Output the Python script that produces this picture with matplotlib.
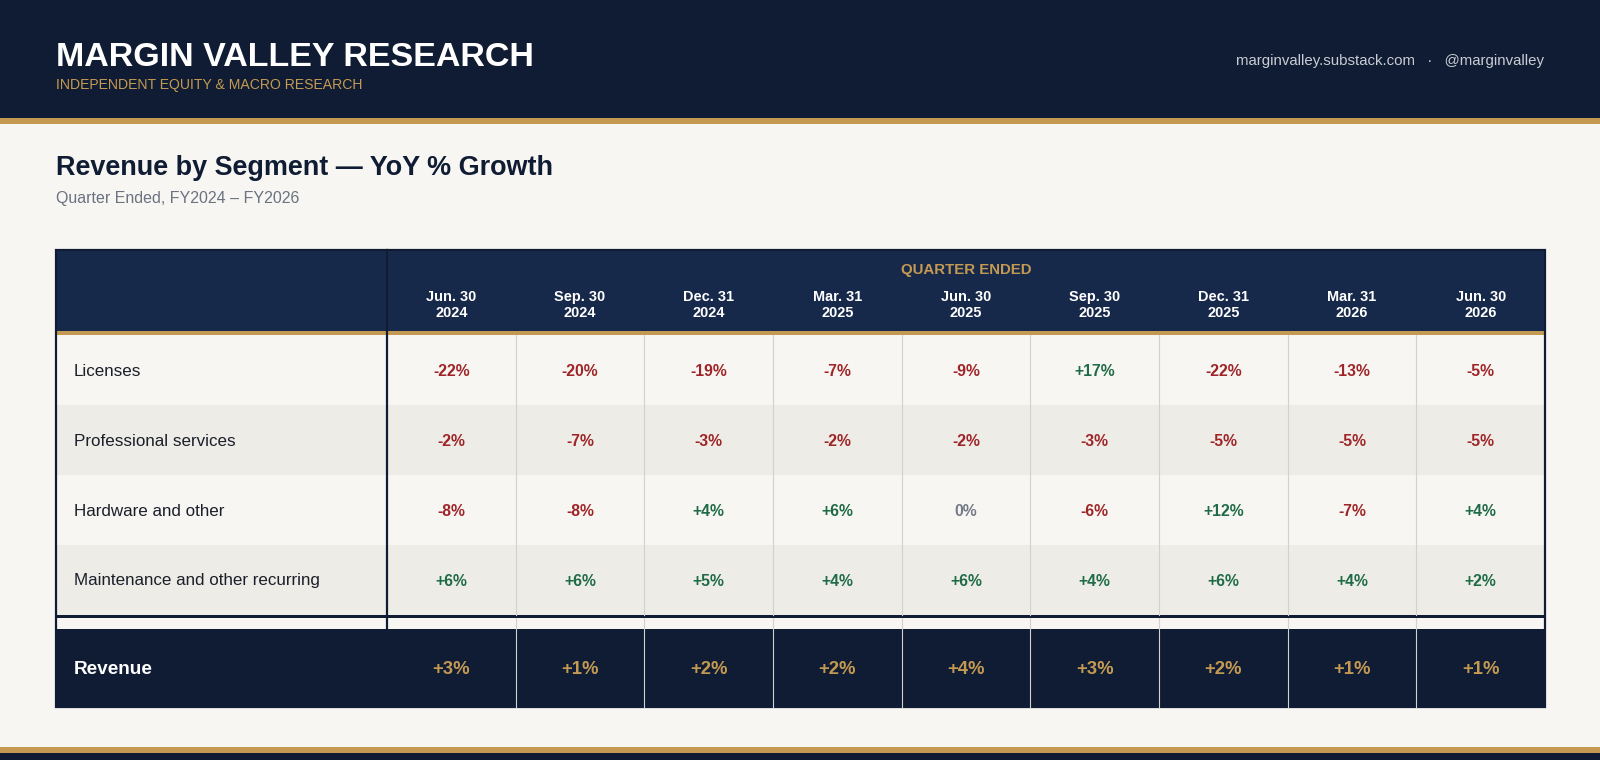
import matplotlib
matplotlib.use("Agg")
import matplotlib.pyplot as plt
from matplotlib.patches import Rectangle

plt.rcParams['font.family'] = ['Liberation Sans', 'DejaVu Sans']

# data
quarter_days = ["Jun. 30", "Sep. 30", "Dec. 31", "Mar. 31", "Jun. 30",
                "Sep. 30", "Dec. 31", "Mar. 31", "Jun. 30"]
quarter_years = ["2024", "2024", "2024", "2025", "2025",
                 "2025", "2025", "2026", "2026"]
segments = ["Licenses", "Professional services", "Hardware and other",
            "Maintenance and other recurring"]
licenses = [-22, -20, -19, -7, -9, 17, -22, -13, -5]
prof_services = [-2, -7, -3, -2, -2, -3, -5, -5, -5]
hardware = [-8, -8, 4, 6, 0, -6, 12, -7, 4]
maintenance = [6, 6, 5, 4, 6, 4, 6, 4, 2]
revenue = [3, 1, 2, 2, 4, 3, 2, 1, 1]
segment_values = [licenses, prof_services, hardware, maintenance]

# colours
NAVY = "#0f1c33"
HEAD = "#17294a"
GOLD = "#c49a52"
PAPER = "#f7f6f2"
ALT = "#edece7"
RED = "#9f2428"
GREEN = "#1e6b45"
GREY = "#737985"
GRID = "#d3d1cb"
INK = "#1b1f2a"


def pt(px):
    # pixel size -> points at dpi 100
    return px * 0.72


def fmt(v):
    return "0%" if v == 0 else f"{v:+d}%"


def colour(v):
    if v > 0:
        return GREEN
    if v < 0:
        return RED
    return GREY


fig = plt.figure(figsize=(16, 7.6), dpi=100)
fig.patch.set_facecolor(PAPER)
ax = fig.add_axes([0, 0, 1, 1])
ax.set_xlim(0, 1600)
ax.set_ylim(760, 0)
ax.axis("off")

# top band
ax.add_patch(Rectangle((0, 0), 1600, 118, color=NAVY, lw=0))
ax.add_patch(Rectangle((0, 118), 1600, 6, color=GOLD, lw=0))
ax.text(56, 57, "MARGIN VALLEY RESEARCH", color="white", fontsize=pt(34),
        fontweight="bold", va="center", ha="left")
ax.text(56, 85, "INDEPENDENT EQUITY & MACRO RESEARCH", color=GOLD,
        fontsize=pt(14), va="center", ha="left")
ax.text(1544, 61, "marginvalley.substack.com   \u00b7   @marginvalley",
        color="#c8ccd4", fontsize=pt(15), va="center", ha="right")

# footer
ax.add_patch(Rectangle((0, 747), 1600, 6, color=GOLD, lw=0))
ax.add_patch(Rectangle((0, 753), 1600, 7, color=NAVY, lw=0))

# titles
ax.text(56, 168, "Revenue by Segment \u2014 YoY % Growth", color=NAVY,
        fontsize=pt(27), fontweight="bold", va="center", ha="left")
ax.text(56, 198, "Quarter Ended, FY2024 \u2013 FY2026", color="#6b7280",
        fontsize=pt(16), va="center", ha="left")

# table layout
X0, X1 = 56, 1545
XL = 387
ncol = len(quarter_days)
cw = (X1 - XL) / ncol
T0 = 250
HEAD_H = 81
GOLD_H = 4
ROW_H = 70
R0 = T0 + HEAD_H + GOLD_H
RN = R0 + ROW_H * len(segments)
SEP_H = 3
GAP = 11
REV0 = RN + SEP_H + GAP
REV_H = 78
col_x = [XL + cw * (i + 0.5) for i in range(ncol)]

# header
ax.add_patch(Rectangle((X0, T0), X1 - X0, HEAD_H, color=HEAD, lw=0))
ax.add_patch(Rectangle((X0, T0 + HEAD_H), X1 - X0, GOLD_H, color=GOLD, lw=0))
ax.text((XL + X1) / 2, 270, "QUARTER ENDED", color=GOLD, fontsize=pt(15),
        fontweight="bold", va="center", ha="center")
for x, d, y in zip(col_x, quarter_days, quarter_years):
    ax.text(x, 297, d, color="white", fontsize=pt(14.5), fontweight="bold",
            va="center", ha="center")
    ax.text(x, 313, y, color="white", fontsize=pt(14.5), fontweight="bold",
            va="center", ha="center")

# segment rows
for r, (name, vals) in enumerate(zip(segments, segment_values)):
    y0 = R0 + r * ROW_H
    ax.add_patch(Rectangle((X0, y0), X1 - X0, ROW_H,
                           color=PAPER if r % 2 == 0 else ALT, lw=0))
    yc = y0 + ROW_H / 2 + 1
    ax.text(74, yc, name, color=INK, fontsize=pt(17), va="center", ha="left")
    for x, v in zip(col_x, vals):
        ax.text(x, yc, fmt(v), color=colour(v), fontsize=pt(15.8),
                fontweight="bold", va="center", ha="center")

ax.add_patch(Rectangle((X0, RN), X1 - X0, SEP_H, color=NAVY, lw=0))

# revenue row
ax.add_patch(Rectangle((X0, REV0), X1 - X0, REV_H, color=NAVY, lw=0))
ax.text(74, REV0 + REV_H / 2 + 1.5, "Revenue", color="white", fontsize=pt(19),
        fontweight="bold", va="center", ha="left")
for x, v in zip(col_x, revenue):
    ax.text(x, REV0 + REV_H / 2 + 1.5, fmt(v), color=GOLD, fontsize=pt(18.5),
            fontweight="bold", va="center", ha="center")

# column dividers
for i in range(1, ncol):
    xd = XL + cw * i
    ax.plot([xd, xd], [R0, RN], color=GRID, lw=0.8)
    ax.plot([xd, xd], [RN + SEP_H, REV0 + REV_H], color=GRID, lw=0.8)
ax.plot([XL, XL], [T0, REV0], color=NAVY, lw=1.6)

# outer border
ax.add_patch(Rectangle((X0, T0), X1 - X0, REV0 + REV_H - T0, fill=False,
                       ec=NAVY, lw=1.6))

fig.savefig("out.png", dpi=100, facecolor=PAPER)
